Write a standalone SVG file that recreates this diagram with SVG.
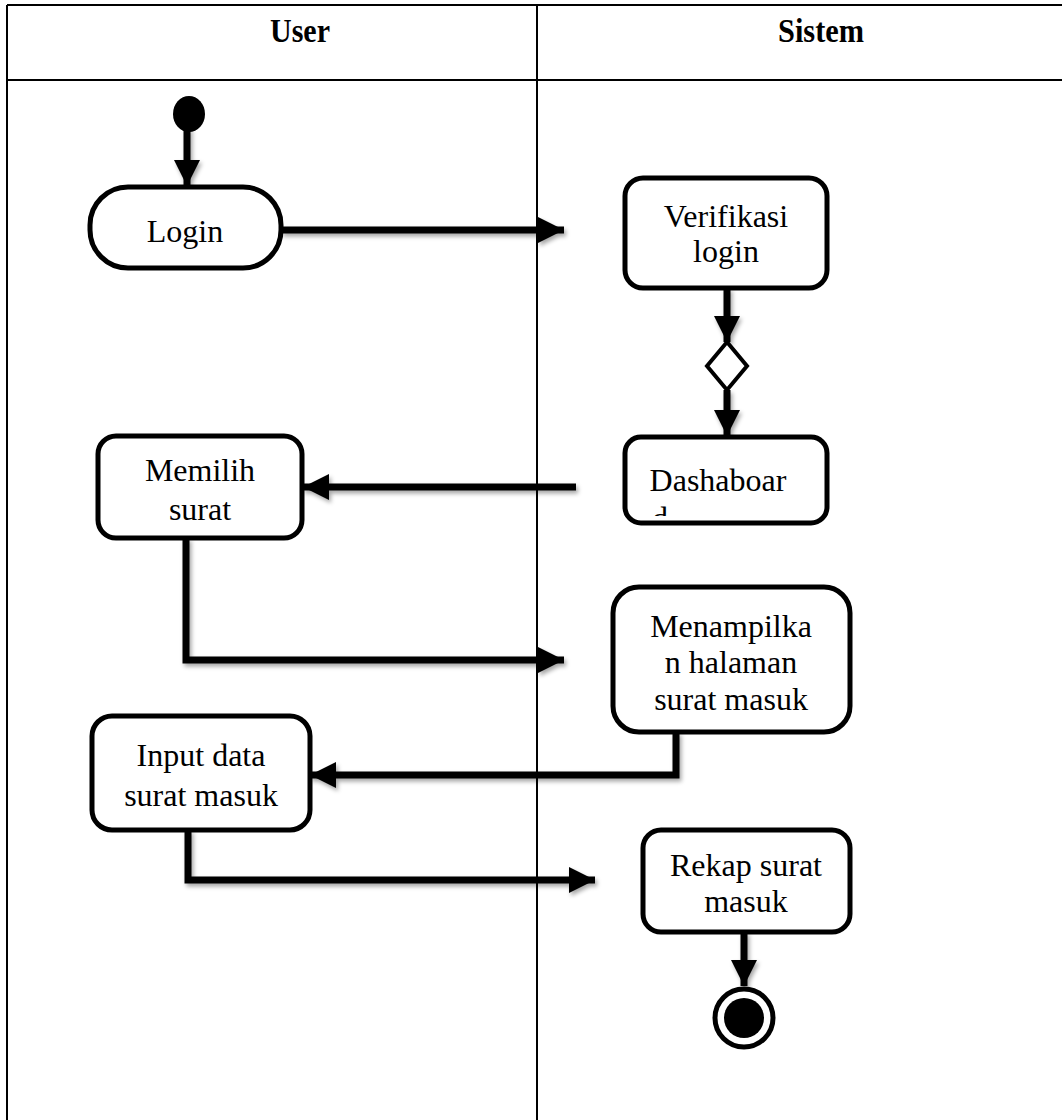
<svg xmlns="http://www.w3.org/2000/svg" width="1062" height="1120" viewBox="0 0 1062 1120">
<style>
.lane{stroke:#000;stroke-width:2;fill:none}
.hdr{font-family:"Liberation Serif","Times New Roman",serif;font-weight:bold;font-size:34px;text-anchor:middle;fill:#000}
.node{fill:#fff;stroke:#000;stroke-width:5}
.lbl{font-family:"Liberation Serif","Times New Roman",serif;font-size:32px;text-anchor:middle;fill:#000}
.edge{stroke:#000;stroke-width:7;fill:none;marker-end:url(#ah);filter:url(#sh)}
</style>
<defs>
<marker id="ah" markerUnits="userSpaceOnUse" markerWidth="28" markerHeight="28" refX="26" refY="13" orient="auto">
<path d="M0,0 L26,13 L0,26 Z" fill="#000"/>
</marker>
<filter id="sh" filterUnits="userSpaceOnUse" x="0" y="0" width="1062" height="1120">
<feDropShadow dx="2" dy="3" stdDeviation="2" flood-color="#000" flood-opacity="0.35"/>
</filter>
<clipPath id="dashclip"><rect x="626" y="438" width="198" height="78"/></clipPath>
</defs>
<g id="swimlanes">
<line class="lane" x1="7" y1="5" x2="1062" y2="5"/>
<line class="lane" x1="7" y1="80" x2="1062" y2="80"/>
<line class="lane" x1="7" y1="5" x2="7" y2="1120"/>
<line class="lane" x1="537" y1="5" x2="537" y2="1120"/>
<text class="hdr" x="300" y="42" textLength="60" lengthAdjust="spacingAndGlyphs">User</text>
<text class="hdr" x="821" y="42" textLength="86" lengthAdjust="spacingAndGlyphs">Sistem</text>
</g>
<g id="connectors">
<line class="edge" x1="187" y1="128" x2="187" y2="186"/>
<line class="edge" x1="281" y1="230" x2="564" y2="230"/>
<line class="edge" x1="727" y1="288" x2="727" y2="342"/>
<line class="edge" x1="727" y1="390" x2="727" y2="436"/>
<line class="edge" x1="576" y1="487" x2="303" y2="487"/>
<polyline class="edge" points="186,538 186,660 564,660"/>
<polyline class="edge" points="676,732 676,775 310,775"/>
<polyline class="edge" points="188,830 188,880 595,880"/>
<line class="edge" x1="744" y1="932" x2="744" y2="986"/>
</g>
<g id="start">
<ellipse cx="189" cy="114" rx="16" ry="18" fill="#000"/>
</g>
<g id="login">
<rect class="node" x="90" y="187" width="191" height="81" rx="38"/>
<text class="lbl" x="185" y="242">Login</text>
</g>
<g id="verifikasi">
<rect class="node" x="625" y="178" width="202" height="110" rx="18"/>
<text class="lbl" x="726" y="227">Verifikasi</text>
<text class="lbl" x="726" y="262">login</text>
</g>
<g id="decision">
<polygon points="727,342 747,366 727,390 707,366" fill="#fff" stroke="#000" stroke-width="4"/>
</g>
<g id="dashboard">
<rect class="node" x="625" y="437" width="202" height="86" rx="16"/>
<g clip-path="url(#dashclip)">
<text class="lbl" x="718" y="491">Dashaboar</text>
<text class="lbl" x="660" y="529" text-anchor="start">d</text>
</g>
</g>
<g id="memilih">
<rect class="node" x="98" y="436" width="204" height="102" rx="18"/>
<text class="lbl" x="200" y="481">Memilih</text>
<text class="lbl" x="200" y="520">surat</text>
</g>
<g id="menampilkan">
<rect class="node" x="613" y="587" width="237" height="145" rx="26"/>
<text class="lbl" x="731" y="637">Menampilka</text>
<text class="lbl" x="731" y="673">n halaman</text>
<text class="lbl" x="731" y="710">surat masuk</text>
</g>
<g id="input">
<rect class="node" x="92" y="716" width="218" height="114" rx="20"/>
<text class="lbl" x="201" y="766">Input data</text>
<text class="lbl" x="201" y="806">surat masuk</text>
</g>
<g id="rekap">
<rect class="node" x="643" y="830" width="207" height="102" rx="18"/>
<text class="lbl" x="746" y="876">Rekap surat</text>
<text class="lbl" x="746" y="912">masuk</text>
</g>
<g id="end">
<circle cx="744" cy="1018" r="29" fill="#fff" stroke="#000" stroke-width="5"/>
<circle cx="744" cy="1018" r="20" fill="#000"/>
</g>
</svg>
